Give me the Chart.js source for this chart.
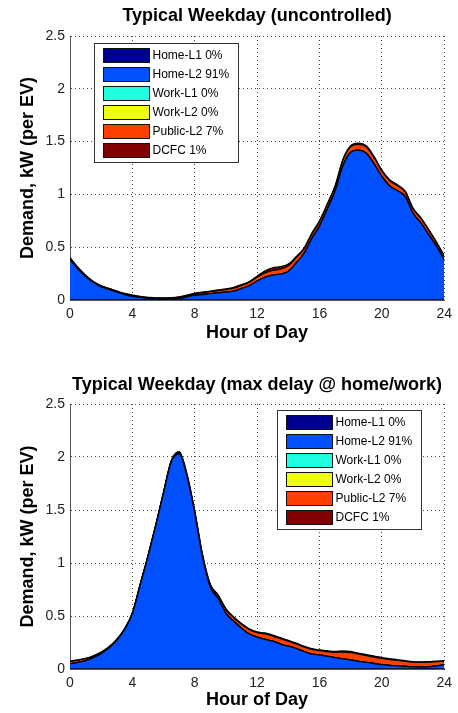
<!DOCTYPE html>
<html><head><meta charset="utf-8">
<script src="https://cdn.jsdelivr.net/npm/chart.js@4.4.1/dist/chart.umd.min.js"></script>
<style>
html,body{margin:0;padding:0;background:#fff;}
#wrap{position:relative;width:458px;height:713px;overflow:hidden;}
.c{position:absolute;left:0;width:458px;}
</style></head><body>
<div id="wrap">
<div class="c" style="top:0;height:356px"><canvas id="chartTop" width="458" height="356"></canvas></div>
<div class="c" style="top:356px;height:357px"><canvas id="chartBottom" width="458" height="357"></canvas></div>
</div>
<script>
// ---------- data ----------
const hours = [0,0.5,1,1.5,2,2.5,3,3.5,4,4.5,5,5.5,6,6.5,7,7.5,8,8.5,9,9.5,10,10.5,11,11.5,12,12.5,13,13.5,14,14.5,15,15.5,16,16.5,17,17.5,18,18.5,19,19.5,20,20.5,21,21.5,22,22.5,23,23.5,24];
const seriesNames  = ['Home-L1','Home-L2','Work-L1','Work-L2','Public-L2','DCFC'];
const seriesShares = ['0%','91%','0%','0%','7%','1%'];
const xTicks = [0,4,8,12,16,20,24];
const yTicks = [0,0.5,1,1.5,2,2.5];
const titleTop = 'Typical Weekday (uncontrolled)';
const titleBottom = 'Typical Weekday (max delay @ home/work)';
const xAxisTitle = 'Hour of Day';
const yAxisTitle = 'Demand, kW (per EV)';

const zeroSeries = [0,0,0,0,0,0,0,0,0,0,0,0,0,0,0,0,0,0,0,0,0,0,0,0,0,0,0,0,0,0,0,0,0,0,0,0,0,0,0,0,0,0,0,0,0,0,0,0,0];

// Typical weekday, uncontrolled (kW per EV)
const homeL2Unc = [0.380,0.295,0.220,0.165,0.125,0.100,0.075,0.052,0.035,0.024,0.016,0.011,0.010,0.011,0.016,0.030,0.045,0.052,0.060,0.068,0.075,0.085,0.108,0.135,0.180,0.215,0.235,0.245,0.270,0.350,0.440,0.580,0.700,0.860,1.030,1.270,1.400,1.420,1.390,1.290,1.170,1.080,1.035,0.980,0.820,0.730,0.620,0.510,0.380];
const publicL2Unc = [0.016,0.012,0.012,0.008,0.008,0.008,0.008,0.008,0.009,0.007,0.007,0.007,0.008,0.009,0.011,0.012,0.016,0.019,0.020,0.022,0.024,0.028,0.030,0.032,0.035,0.042,0.046,0.048,0.054,0.050,0.042,0.042,0.042,0.042,0.042,0.051,0.050,0.053,0.058,0.059,0.050,0.050,0.046,0.042,0.042,0.042,0.042,0.033,0.033];
const dcfcUnc = [0.004,0.003,0.003,0.002,0.002,0.002,0.002,0.002,0.003,0.002,0.002,0.002,0.002,0.002,0.003,0.003,0.004,0.004,0.005,0.005,0.006,0.007,0.007,0.008,0.010,0.018,0.024,0.022,0.016,0.010,0.008,0.008,0.008,0.008,0.008,0.009,0.010,0.012,0.012,0.011,0.010,0.010,0.009,0.008,0.008,0.008,0.008,0.007,0.007];

// Typical weekday, max delay @ home/work (kW per EV)
const homeL2Del = [0.050,0.062,0.080,0.108,0.145,0.197,0.270,0.370,0.520,0.790,1.060,1.350,1.660,1.955,2.030,1.820,1.470,1.055,0.770,0.665,0.525,0.450,0.385,0.330,0.300,0.280,0.262,0.235,0.215,0.195,0.165,0.140,0.132,0.120,0.108,0.095,0.085,0.072,0.062,0.052,0.042,0.035,0.030,0.025,0.022,0.018,0.020,0.030,0.040];
const publicL2Del = [0.021,0.019,0.017,0.014,0.012,0.010,0.008,0.008,0.008,0.008,0.008,0.008,0.007,0.010,0.012,0.014,0.015,0.019,0.023,0.027,0.036,0.032,0.037,0.042,0.042,0.051,0.049,0.051,0.047,0.043,0.043,0.045,0.041,0.045,0.049,0.065,0.069,0.068,0.064,0.061,0.058,0.054,0.051,0.047,0.042,0.044,0.044,0.039,0.033];
const dcfcDel = [0.004,0.004,0.003,0.003,0.003,0.003,0.002,0.002,0.002,0.002,0.002,0.002,0.003,0.005,0.008,0.006,0.005,0.006,0.007,0.008,0.009,0.008,0.008,0.008,0.008,0.009,0.009,0.009,0.008,0.007,0.007,0.007,0.007,0.007,0.008,0.010,0.011,0.010,0.009,0.009,0.008,0.008,0.007,0.006,0.006,0.006,0.006,0.006,0.005];

// ---------- styles ----------
const seriesColors = ['#00008F','#0050FF','#20FFDF','#EFFF10','#FF4000','#800000'];
const FONT = "'Liberation Sans', Arial, Helvetica, sans-serif";

const boxLegend = {
  id: 'boxLegend',
  afterDraw(chart, args, o) {
    const ctx = chart.ctx, ca = chart.chartArea;
    const w = 144, h = 119;
    const bx = o.side === 'left' ? Math.round(ca.left + o.dx) + 0.5 : Math.round(ca.right - o.dx - w) + 0.5;
    const by = Math.round(ca.top + o.dy) + 0.5;
    ctx.save();
    ctx.fillStyle = '#fff';
    ctx.fillRect(bx, by, w, h);
    ctx.strokeStyle = '#333';
    ctx.lineWidth = 1;
    ctx.strokeRect(bx, by, w, h);
    ctx.font = '12px ' + FONT;
    ctx.textBaseline = 'middle';
    ctx.textAlign = 'left';
    chart.data.datasets.forEach((ds, i) => {
      const sy = by + 5 + i * 19;
      ctx.fillStyle = ds.backgroundColor;
      ctx.fillRect(bx + 9, sy, 46, 14);
      ctx.strokeStyle = '#111';
      ctx.strokeRect(bx + 9, sy, 46, 14);
      ctx.fillStyle = '#000';
      ctx.fillText(seriesNames[i] + ' ' + seriesShares[i], bx + 58, sy + 7.5);
    });
    ctx.restore();
  }
};

function makeChart(id, title, series, L) {
  const datasets = series.map((vals, i) => ({
    label: seriesNames[i],
    data: hours.map((h, j) => ({x: h, y: vals[j]})),
    backgroundColor: seriesColors[i],
    borderColor: '#000',
    borderWidth: 1.3,
    pointRadius: 0,
    fill: i === 0 ? 'origin' : '-1',
    cubicInterpolationMode: 'monotone'
  }));
  return new Chart(document.getElementById(id), {
    type: 'line',
    data: { datasets },
    plugins: [boxLegend],
    options: {
      responsive: false,
      animation: false,
      devicePixelRatio: 1,
      layout: { padding: { left: 0, right: 9, top: 0, bottom: 0 } },
      plugins: {
        legend: { display: false },
        tooltip: { enabled: false },
        title: {
          display: true, text: title, fullSize: false, color: '#000',
          font: { family: FONT, size: 18, weight: 'bold' },
          padding: { top: L.titleTop, bottom: L.titleBottom }
        },
        boxLegend: { side: L.legendSide, dx: 23.5, dy: L.legendDy }
      },
      scales: {
        x: {
          type: 'linear', min: 0, max: 24,
          afterBuildTicks: s => { s.ticks = xTicks.map(v => ({value: v})); },
          afterFit: s => { s.height = L.xHeight; },
          ticks: { color: '#222', font: { family: FONT, size: 14 }, padding: 6, maxRotation: 0, autoSkip: false,
                   callback: v => String(v) },
          grid: { color: '#444', lineWidth: 1, drawTicks: false },
          border: { display: true, color: '#555', width: 1, dash: [1, 3] },
          title: { display: true, text: xAxisTitle, color: '#000',
                   font: { family: FONT, size: 18, weight: 'bold' },
                   padding: { top: 0, bottom: L.xTitlePad } }
        },
        y: {
          type: 'linear', min: 0, max: 2.5, stacked: true,
          afterBuildTicks: s => { s.ticks = yTicks.map(v => ({value: v})); },
          afterFit: s => { s.width = 70; },
          ticks: { color: '#222', font: { family: FONT, size: 14 }, padding: 5,
                   callback: v => String(v) },
          grid: { color: '#444', lineWidth: 1, drawTicks: false },
          border: { display: true, color: '#555', width: 1, dash: [1, 3] },
          title: { display: true, text: yAxisTitle, color: '#000',
                   font: { family: FONT, size: 18, weight: 'bold' },
                   padding: { top: 17.2, bottom: 0 } }
        }
      }
    }
  });
}

makeChart('chartTop', titleTop,
  [zeroSeries, homeL2Unc, zeroSeries, zeroSeries, publicL2Unc, dcfcUnc],
  { titleTop: 5.2, titleBottom: 9.2, xHeight: 56, xTitlePad: 12.2, legendSide: 'left', legendDy: 6.5 });
makeChart('chartBottom', titleBottom,
  [zeroSeries, homeL2Del, zeroSeries, zeroSeries, publicL2Del, dcfcDel],
  { titleTop: 18.2, titleBottom: 8.2, xHeight: 44, xTitlePad: 2.2, legendSide: 'right', legendDy: 6 });
</script>
</body></html>
